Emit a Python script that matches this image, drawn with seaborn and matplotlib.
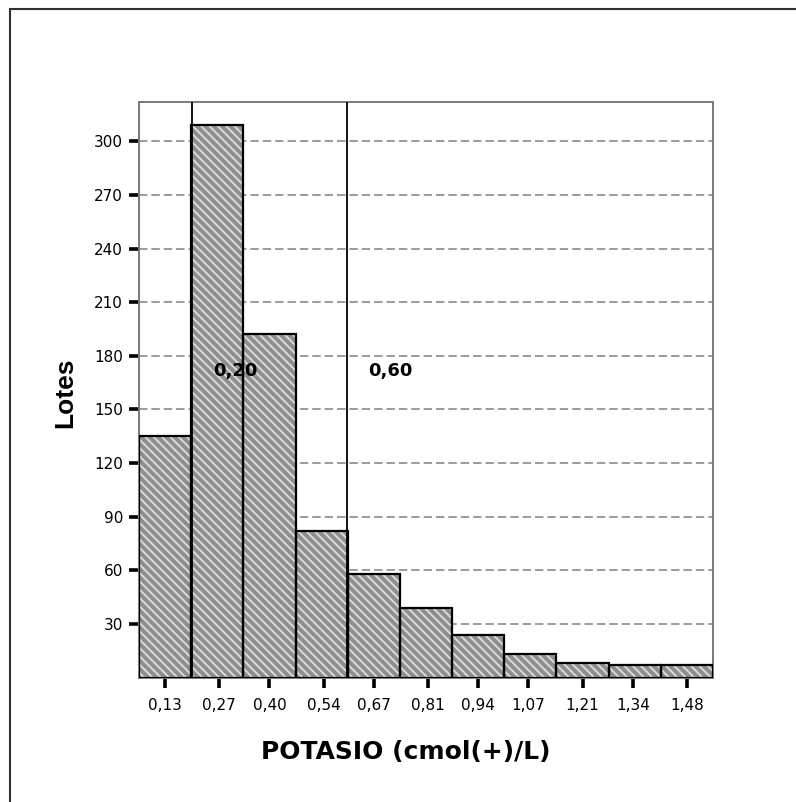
import matplotlib
matplotlib.use("Agg")
import matplotlib.pyplot as plt
import seaborn as sns
import numpy as np
from matplotlib.patches import Rectangle

# ---- data ----
bin_centers = [0.13, 0.27, 0.40, 0.54, 0.67, 0.81, 0.94, 1.07, 1.21, 1.34, 1.48]
tick_labels = ["0,13", "0,27", "0,40", "0,54", "0,67", "0,81", "0,94", "1,07", "1,21", "1,34", "1,48"]
counts = [135, 309, 192, 82, 58, 39, 24, 13, 8, 7, 7]
ref_values = [0.20, 0.60]
ref_labels = ["0,20", "0,60"]
y_ticks = [30, 60, 90, 120, 150, 180, 210, 240, 270, 300]

sns.set_theme(style="white")
plt.rcParams['font.family'] = ['DejaVu Sans']
plt.rcParams['hatch.linewidth'] = 1.4
plt.rcParams['text.color'] = 'black'
plt.rcParams['xtick.color'] = 'black'
plt.rcParams['ytick.color'] = 'black'

W, H = 796, 802
fig = plt.figure(figsize=(W / 100, H / 100), dpi=100)
ax = fig.add_axes([139 / W, 1 - 677.5 / H, 574 / W, 575.5 / H])

width = 0.135
edges = [bin_centers[0] - width / 2 + i * width for i in range(len(bin_centers) + 1)]

# hatched fill
sns.histplot(x=bin_centers, weights=counts, bins=edges, ax=ax,
             color="#858585", edgecolor="#d2d2d2", linewidth=0, alpha=1)
for p in ax.patches:
    p.set_hatch("\\\\\\\\")
    p.set_facecolor("#8e8e8e")
    p.set_edgecolor("#dadada")
    p.set_linewidth(0)
    p.set_zorder(2)
# black outlines
sns.histplot(x=bin_centers, weights=counts, bins=edges, ax=ax,
             fill=False, color="black", linewidth=1.6)
for p in ax.patches[len(counts):]:
    p.set_edgecolor("black")
    p.set_zorder(3)

ax.set_xlim(edges[0], edges[-1])
ax.set_ylim(0, 322)

ax.set_yticks(y_ticks)
ax.set_yticklabels([str(v) for v in y_ticks], fontsize=11, color="black")
ax.set_xticks(bin_centers)
ax.set_xticklabels(tick_labels, fontsize=11, color="black")
ax.tick_params(axis="both", which="major", length=7.5, width=2.6, color="black",
               direction="out", left=True, bottom=True)
ax.tick_params(axis="y", pad=4)
ax.tick_params(axis="x", pad=7)

ax.grid(False)
for v in y_ticks:
    ax.axhline(v, color="#808080", lw=1.1, ls=(0, (5.5, 2.6)), zorder=1)

for spine in ax.spines.values():
    spine.set_color("#7a7a7a")
    spine.set_linewidth(1.4)

# reference lines
for v, lab in zip(ref_values, ref_labels):
    ax.axvline(v, color="black", lw=1.3, zorder=4)
    ax.text(v + 0.055, 171.5, lab, fontsize=13, fontweight="bold",
            ha="left", va="center", zorder=5, color="black")

ax.set_xlabel("")
ax.set_ylabel("")
fig.text(406 / W, 1 - 752 / H, "POTASIO (cmol(+)/L)", fontsize=18,
         fontweight="bold", ha="center", va="center", color="black")
fig.text(65 / W, 1 - 392.5 / H, "Lotes", fontsize=19, fontweight="bold",
         ha="center", va="center", rotation=90, color="black",
         family=["Liberation Sans", "DejaVu Sans"])

# outer frame (left and top edges visible)
fig.add_artist(Rectangle((9.5 / W, -0.1), 1.2, (1 - 8.5 / H) + 0.1,
                         transform=fig.transFigure, fill=False,
                         edgecolor="#303030", lw=1.5))

fig.savefig("out.png", dpi=100)
